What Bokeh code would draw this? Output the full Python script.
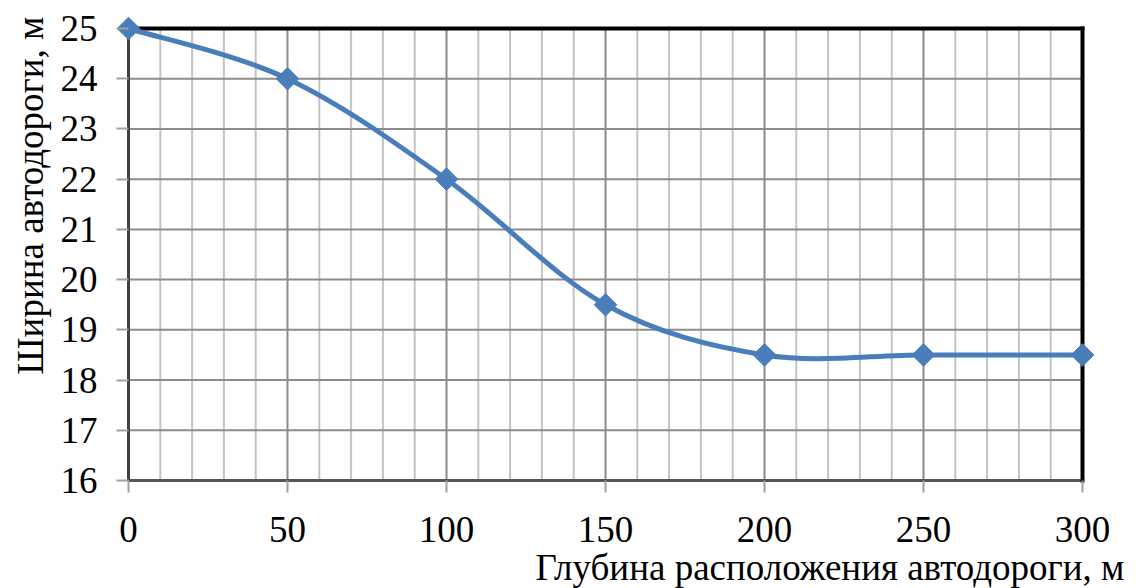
import numpy as np
from bokeh.plotting import figure
from bokeh.models import FixedTicker, Title
from bokeh.embed import file_html
from bokeh.resources import INLINE

# Road width versus road depth
depth = [0, 50, 100, 150, 200, 250, 300]
width = [25, 24, 22, 19.5, 18.5, 18.5, 18.5]

x_ticks = [0, 50, 100, 150, 200, 250, 300]
x_minor = [v for v in range(0, 301, 10) if v % 50 != 0]
y_ticks = list(range(16, 26))
x_lo, x_hi = 0, 300
y_lo, y_hi = 16, 25

FONT = "Liberation Serif"
BLUE = "#4a7ebb"
FS = "37px"

# plot box in pixels, plus a margin so end markers are not cut off
BOX_L, BOX_R, BOX_T, BOX_B = 128, 1082, 28, 480
PAD = 12
px_x = (x_hi - x_lo) / (BOX_R - BOX_L)
px_y = (y_hi - y_lo) / (BOX_B - BOX_T)

p = figure(width=1136, height=588,
           x_range=(x_lo - PAD * px_x, x_hi + PAD * px_x),
           y_range=(y_lo - PAD * px_y, y_hi + PAD * px_y),
           output_backend="svg", toolbar_location=None,
           min_border_left=BOX_L - PAD, min_border_right=1136 - BOX_R - PAD,
           min_border_top=BOX_T - PAD, min_border_bottom=588 - BOX_B - PAD)
p.background_fill_color = "white"
p.border_fill_color = "white"
p.outline_line_color = None
p.xgrid.visible = False
p.ygrid.visible = False

# axes: ticks reach inward from the frame edge to the plot box
p.xaxis.ticker = FixedTicker(ticks=x_ticks)
p.yaxis.ticker = FixedTicker(ticks=y_ticks)
for ax in (p.xaxis, p.yaxis):
    ax.major_label_text_font = FONT
    ax.major_label_text_font_size = FS
    ax.major_label_text_color = "black"
    ax.axis_line_color = None
    ax.major_tick_line_color = "#a0a0a0"
    ax.major_tick_line_width = 2
    ax.major_tick_out = 0
    ax.major_tick_in = PAD
    ax.minor_tick_out = 0
    ax.minor_tick_in = 0
p.xaxis.major_label_standoff = 24
p.yaxis.major_label_standoff = 19

# grid lines
p.segment(x0=x_minor, y0=y_lo, x1=x_minor, y1=y_hi,
          line_color="#c3c3c3", line_width=2)
p.segment(x0=x_ticks, y0=y_lo, x1=x_ticks, y1=y_hi,
          line_color="#8c8c8c", line_width=2)
p.segment(x0=x_lo, y0=y_ticks, x1=x_hi, y1=y_ticks,
          line_color="#8c8c8c", line_width=2)

# box edges
p.segment(x0=[x_lo], y0=[y_lo], x1=[x_hi], y1=[y_lo],
          line_color="#555555", line_width=3)
p.segment(x0=[x_lo], y0=[y_lo], x1=[x_lo], y1=[y_hi],
          line_color="#404040", line_width=3)
p.segment(x0=[x_lo, x_hi], y0=[y_hi, y_lo], x1=[x_hi, x_hi], y1=[y_hi, y_hi],
          line_color="black", line_width=4, line_cap="square")

# smoothed line: cubic Bezier segments through the points
xs = np.array(depth, dtype=float)
ys = np.array(width, dtype=float)
n = len(xs)
x0, y0, x1, y1, cx0, cy0, cx1, cy1 = ([] for _ in range(8))
for i in range(n - 1):
    im = max(i - 1, 0)
    ip = min(i + 2, n - 1)
    x0.append(xs[i]); y0.append(ys[i])
    x1.append(xs[i + 1]); y1.append(ys[i + 1])
    cx0.append(xs[i] + (xs[i + 1] - xs[im]) / 6)
    cy0.append(ys[i] + (ys[i + 1] - ys[im]) / 6)
    cx1.append(xs[i + 1] - (xs[ip] - xs[i]) / 6)
    cy1.append(ys[i + 1] - (ys[ip] - ys[i]) / 6)
p.bezier(x0=x0, y0=y0, x1=x1, y1=y1, cx0=cx0, cy0=cy0, cx1=cx1, cy1=cy1,
         line_color=BLUE, line_width=5)

p.scatter(depth, width, marker="square", angle=np.pi / 4, size=16,
          fill_color=BLUE, line_color=BLUE)

# axis titles
p.add_layout(Title(text="Глубина расположения автодороги, м", align="right",
                   offset=-30, standoff=0, text_font=FONT, text_font_size=FS,
                   text_font_style="normal", text_color="black"), "below")
p.add_layout(Title(text="Ширина автодороги, м", align="right",
                   offset=0, standoff=13, text_font=FONT, text_font_size=FS,
                   text_font_style="normal", text_color="black"), "left")

open("out.html", "w").write(file_html(p, INLINE))
